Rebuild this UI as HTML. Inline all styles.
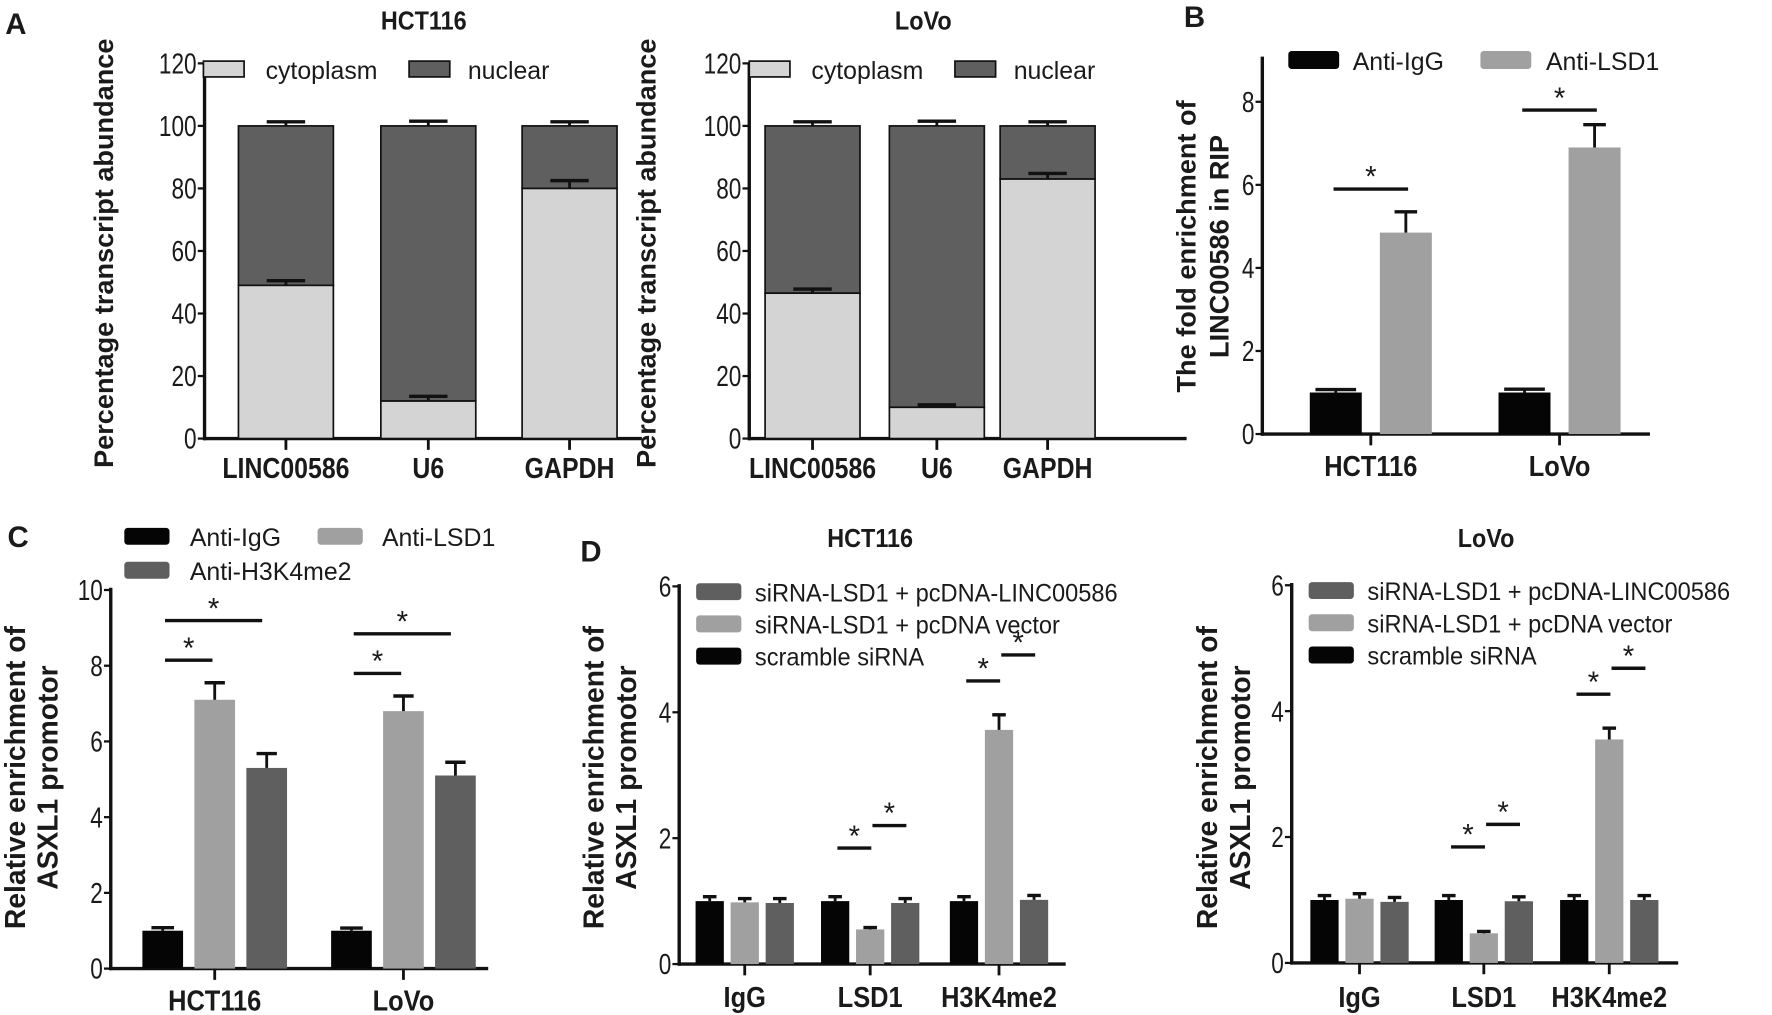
<!DOCTYPE html>
<html><head><meta charset="utf-8"><style>
html,body{margin:0;padding:0;background:#fff;}
svg{display:block;font-family:"Liberation Sans",sans-serif;}
</style></head><body>
<svg id="fig" width="1772" height="1015" viewBox="0 0 1568 898" xmlns="http://www.w3.org/2000/svg"></svg>
<script>
// ---- Panel A data
const aCats = ["LINC00586","U6","GAPDH"];
const aHctCyto = [49, 12, 80];
const aHctCytoErr = [1.5, 1.5, 2.5];
const aLovoCyto = [46.5, 10, 83];
const aLovoCytoErr = [1.3, 0.8, 1.8];
const aTotal = [100, 100, 100];
const aTotalErr = [1.3, 1.5, 1.3];
const aTicks = [0,20,40,60,80,100,120];
// ---- Panel B data
const bCats = ["HCT116","LoVo"];
const bIgG = [1.0, 1.0];
const bIgGErr = [0.07, 0.08];
const bLSD1 = [4.85, 6.9];
const bLSD1Err = [0.5, 0.55];
const bSigLevel = [5.9, 7.8];
const bTicks = [0,2,4,6,8];
// ---- Panel C data
const cCats = ["HCT116","LoVo"];
const cIgG = [1.0, 1.0];
const cIgGErr = [0.08, 0.07];
const cLSD1 = [7.1, 6.8];
const cLSD1Err = [0.45, 0.4];
const cH3 = [5.3, 5.1];
const cH3Err = [0.38, 0.35];
const cTicks = [0,2,4,6,8,10];
// ---- Panel D data
const dCats = ["IgG","LSD1","H3K4me2"];
const dHctScr = [1.0, 1.0, 1.0];
const dHctVec = [0.98, 0.55, 3.72];
const dHctLinc = [0.97, 0.97, 1.02];
const dLovoScr = [1.0, 1.0, 1.0];
const dLovoVec = [1.02, 0.47, 3.55];
const dLovoLinc = [0.97, 0.98, 1.0];
const dErr = 0.07;
const dHctVecErr = [0.06, 0.03, 0.24];
const dLovoVecErr = [0.08, 0.03, 0.18];
const dTicks = [0,2,4,6];

const svg = document.getElementById('fig');
const NS = "http://www.w3.org/2000/svg";
function el(tag, attrs, parent, text){
  const e = document.createElementNS(NS, tag);
  for (const k in attrs) e.setAttribute(k, attrs[k]);
  if (text !== undefined) e.textContent = text;
  (parent||svg).appendChild(e);
  return e;
}
function group(name){
  const g = el('g', {});
  
  
  return g;
}
function txt(g, x, y, s, size, opts){
  opts = opts||{};
  const t = el('text', {x:x, y:y, 'font-size':size, 'text-anchor':opts.anchor||'middle',
    'font-weight':opts.bold?'bold':'normal', fill:'#1a1a1a'}, g, s);
  if (opts.rot) t.setAttribute('transform', 'rotate(-90 '+x+' '+y+')');
  if (opts.narrow) t.setAttribute('transform', 'translate('+x+' 0) scale('+opts.narrow+' 1) translate('+(-x)+' 0)');
  
  
  return t;
}
function line(g,x1,y1,x2,y2,w){ return el('line',{x1:x1,y1:y1,x2:x2,y2:y2,stroke:'#111','stroke-width':w||2},g); }
function axes(g, x0, xEnd, y, yTicks, topY){
  line(g, x0, topY, x0, y(0)+1.5, 3);
  line(g, x0-1, y(0), xEnd, y(0), 3);
  yTicks.forEach(v=>{
    line(g, x0-6, y(v), x0, y(v), 2);
    txt(g, x0-7, y(v)+9, String(v), 25, {anchor:'end', name:'y-tick-label', narrow:0.8});
  });
}
function errBar(g, x, yTop, yErr, half){
  line(g, x, yTop, x, yErr, 2.5);
  line(g, x-half, yErr, x+half, yErr, 3);
}
function bar(g, x, w, y0, y1, fill, name, stroke){
  const r = el('rect',{x:x-w/2, y:Math.min(y0,y1), width:w, height:Math.abs(y1-y0), fill:fill}, g);
  if (stroke){ r.setAttribute('stroke','#111'); r.setAttribute('stroke-width','1.5'); }
  
  
  return r;
}
function sig(g, x1, x2, yy){
  line(g, x1, yy, x2, yy, 3);
  txt(g, (x1+x2)/2, yy-2, '*', 26, {name:'significance-star'});
}
const LIGHT='#d4d4d4', DARK='#5f5f5f', GRAY='#a0a0a0', BLACK='#050505';
const BOLD = {bold:true, narrow:0.9};

// ===== Panel A =====
function panelA(name, x0, centers, cyto, cytoErr, title, titleX, legX, ytitleX){
  const g = group(name);
  const y = v => 388 - v*(332/120);
  axes(g, x0, x0+387, y, aTicks, 56);
  centers.forEach((cx,i)=>{
    bar(g, cx, 84, y(cyto[i]), y(aTotal[i]), DARK, 'bar-nuclear-'+aCats[i].toLowerCase(), true);
    bar(g, cx, 84, y(0), y(cyto[i]), LIGHT, 'bar-cytoplasm-'+aCats[i].toLowerCase(), true);
    errBar(g, cx, y(aTotal[i]), y(aTotal[i]+aTotalErr[i]), 17);
    errBar(g, cx, y(cyto[i]), y(cyto[i]+cytoErr[i]), 17);
    line(g, cx, y(0), cx, y(0)+10, 2.5);
    txt(g, cx, 423, aCats[i], 25, {bold:true, narrow:0.88, name:'x-tick-label'});
  });
  txt(g, titleX, 26, title, 23, {bold:true, narrow:0.9, name:'panel-title'});
  txt(g, ytitleX, 224, 'Percentage transcript abundance', 24, {bold:true, rot:true, name:'y-axis-title'});
  const lg = group('legend');
  g.appendChild(lg);
  el('rect',{x:legX, y:54, width:36, height:14, fill:LIGHT, stroke:'#111','stroke-width':1.5}, lg);
  txt(lg, legX+55, 70, 'cytoplasm', 22, {anchor:'start', name:'legend-cytoplasm'});
  el('rect',{x:legX+182, y:54, width:36, height:14, fill:DARK, stroke:'#111','stroke-width':1.5}, lg);
  txt(lg, legX+234, 70, 'nuclear', 22, {anchor:'start', name:'legend-nuclear'});
}
panelA('panel-a-hct116', 181, [253,379,504], aHctCyto, aHctCytoErr, 'HCT116', 375, 180, 100);
panelA('panel-a-lovo', 663, [719,829,927], aLovoCyto, aLovoCytoErr, 'LoVo', 817, 663, 580);
(function(){const g=group('panel-label-a'); txt(g, 14, 30, 'A', 26, {bold:true, name:'panel-label-a'});})();

// ===== Panel B =====
(function(){
  const g = group('panel-b');
  const y = v => 384 - v*36.75;
  axes(g, 1117, 1460, y, bTicks, 50);
  const gc = [1213, 1380];
  gc.forEach((c,i)=>{
    bar(g, c-31, 46, y(0), y(bIgG[i]), BLACK, 'bar-anti-igg-'+bCats[i].toLowerCase());
    errBar(g, c-31, y(bIgG[i]), y(bIgG[i]+bIgGErr[i]), 18);
    bar(g, c+31, 46, y(0), y(bLSD1[i]), GRAY, 'bar-anti-lsd1-'+bCats[i].toLowerCase());
    errBar(g, c+31, y(bLSD1[i]), y(bLSD1[i]+bLSD1Err[i]), 10);
    line(g, c, y(0), c, y(0)+10, 2.5);
    txt(g, c, 421, bCats[i], 25, {bold:true, narrow:0.9, name:'x-tick-label'});
    sig(g, c-33, c+33, y(bSigLevel[i]));
  });
  txt(g, 1058, 218, 'The fold enrichment of', 24, {bold:true, rot:true, name:'y-axis-title-line1'});
  txt(g, 1087, 218, 'LINC00586 in RIP', 24, {bold:true, rot:true, name:'y-axis-title-line2'});
  txt(g, 1057, 24, 'B', 26, {bold:true, name:'panel-label-b'});
  const lg = group('legend'); g.appendChild(lg);
  el('rect',{x:1140,y:45,width:45,height:16,rx:3,fill:BLACK},lg);
  txt(lg, 1197, 62, 'Anti-IgG', 22, {anchor:'start', name:'legend-anti-igg'});
  el('rect',{x:1310,y:45,width:45,height:16,rx:3,fill:GRAY},lg);
  txt(lg, 1368, 62, 'Anti-LSD1', 22, {anchor:'start', name:'legend-anti-lsd1'});
})();

// ===== Panel C =====
(function(){
  const g = group('panel-c');
  const y = v => 857 - v*33.5;
  axes(g, 98, 432, y, cTicks, 520);
  const gc = [190, 357];
  gc.forEach((c,i)=>{
    bar(g, c-46, 36, y(0), y(cIgG[i]), BLACK, 'bar-anti-igg-'+cCats[i].toLowerCase());
    errBar(g, c-46, y(cIgG[i]), y(cIgG[i]+cIgGErr[i]), 10);
    bar(g, c, 36, y(0), y(cLSD1[i]), GRAY, 'bar-anti-lsd1-'+cCats[i].toLowerCase());
    errBar(g, c, y(cLSD1[i]), y(cLSD1[i]+cLSD1Err[i]), 9);
    bar(g, c+46, 36, y(0), y(cH3[i]), DARK, 'bar-anti-h3k4me2-'+cCats[i].toLowerCase());
    errBar(g, c+46, y(cH3[i]), y(cH3[i]+cH3Err[i]), 9);
    line(g, c, y(0), c, y(0)+10, 2.5);
    txt(g, c, 894, cCats[i], 25, {bold:true, narrow:0.9, name:'x-tick-label'});
    sig(g, c-44, c-2, y(cLSD1[i]+cLSD1Err[i])-20);
    sig(g, c-44, c+42, y(cLSD1[i]+cLSD1Err[i])-55);
  });
  txt(g, 22, 688, 'Relative enrichment of', 25, {bold:true, rot:true, name:'y-axis-title-line1'});
  txt(g, 51, 688, 'ASXL1 promotor', 25, {bold:true, rot:true, name:'y-axis-title-line2'});
  txt(g, 16, 484, 'C', 26, {bold:true, name:'panel-label-c'});
  const lg = group('legend'); g.appendChild(lg);
  el('rect',{x:110,y:467,width:40,height:15,rx:3,fill:BLACK},lg);
  txt(lg, 168, 483, 'Anti-IgG', 22, {anchor:'start', name:'legend-anti-igg'});
  el('rect',{x:281,y:467,width:40,height:15,rx:3,fill:GRAY},lg);
  txt(lg, 338, 483, 'Anti-LSD1', 22, {anchor:'start', name:'legend-anti-lsd1'});
  el('rect',{x:110,y:497,width:40,height:15,rx:3,fill:DARK},lg);
  txt(lg, 168, 513, 'Anti-H3K4me2', 22, {anchor:'start', name:'legend-anti-h3k4me2'});
})();

// ===== Panel D =====
function panelD(name, x0, y0, centers, scr, vec, vecErr, linc, title, titleX, ytx){
  const g = group(name);
  const y = v => y0 - v*55.7;
  axes(g, x0, x0+342, y, dTicks, y(6)-2);
  centers.forEach((c,i)=>{
    bar(g, c-31, 25, y(0), y(scr[i]), BLACK, 'bar-scramble-'+dCats[i].toLowerCase());
    errBar(g, c-31, y(scr[i]), y(scr[i]+dErr), 6);
    bar(g, c, 25, y(0), y(vec[i]), GRAY, 'bar-vector-'+dCats[i].toLowerCase());
    errBar(g, c, y(vec[i]), y(vec[i]+vecErr[i]), 6);
    bar(g, c+31, 25, y(0), y(linc[i]), DARK, 'bar-linc00586-'+dCats[i].toLowerCase());
    errBar(g, c+31, y(linc[i]), y(linc[i]+dErr), 6);
    line(g, c, y(0), c, y(0)+10, 2.5);
    txt(g, c, 891, dCats[i], 25, {bold:true, narrow:0.9, name:'x-tick-label'});
    if (i>0){
      const top = Math.max(scr[i]+dErr, vec[i]+vecErr[i]);
      sig(g, c-29, c+1, y(top)-(i==1?43:30));
      sig(g, c+2, c+32, y(top)-(i==1?63:53));
    }
  });
  txt(g, titleX, 484, title, 23, {bold:true, narrow:0.9, name:'panel-title'});
  txt(g, ytx, 688, 'Relative enrichment of', 25, {bold:true, rot:true, name:'y-axis-title-line1'});
  txt(g, ytx+29, 688, 'ASXL1 promotor', 25, {bold:true, rot:true, name:'y-axis-title-line2'});
  const lg = group('legend'); g.appendChild(lg);
  const lx = x0+15;
  const entries = [[DARK,'siRNA-LSD1 + pcDNA-LINC00586'],[GRAY,'siRNA-LSD1 + pcDNA vector'],[BLACK,'scramble siRNA']];
  entries.forEach((e,k)=>{
    el('rect',{x:lx, y:y0-337+k*28.5, width:40, height:15, rx:3, fill:e[0]}, lg);
    txt(lg, lx+52, y0-321+k*28.5, e[1], 22, {anchor:'start', narrow:0.95, name:'legend-entry'});
  });
}
panelD('panel-d-hct116', 601, 853, [659,770,884], dHctScr, dHctVec, dHctVecErr, dHctLinc, 'HCT116', 770, 534);
panelD('panel-d-lovo', 1143, 852, [1203,1313,1424], dLovoScr, dLovoVec, dLovoVecErr, dLovoLinc, 'LoVo', 1315, 1077);
(function(){const g=group('panel-label-d'); txt(g, 523, 497, 'D', 26, {bold:true, name:'panel-label-d'});})();
</script>
</body></html>
